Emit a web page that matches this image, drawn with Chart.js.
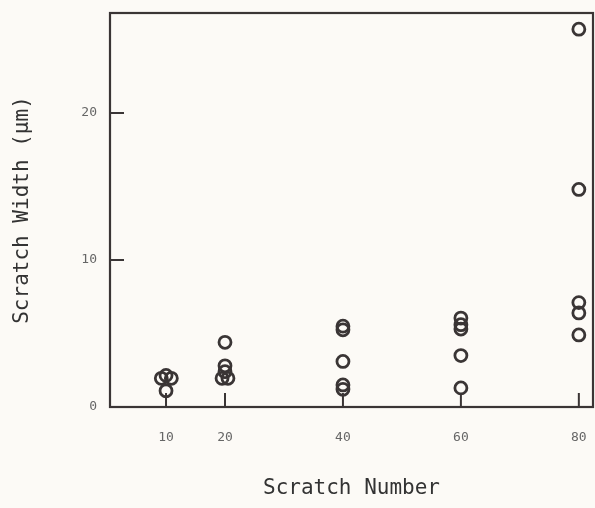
<!DOCTYPE html>
<html>
<head>
<meta charset="utf-8">
<script src="https://cdn.jsdelivr.net/npm/chart.js@4.4.1/dist/chart.umd.min.js"></script>
<style>
  html, body { margin: 0; padding: 0; background: #fcfaf6; overflow: hidden; }
  #wrap { width: 595px; height: 508px; }
</style>
</head>
<body>
<div id="wrap"><canvas id="myChart" width="595" height="508"></canvas></div>
<script>
// 읽어낸 값들 (scratch number, width in um)
const scratchX = [9.2, 10, 10.9, 10,
  20, 20, 20, 19.5, 20.5,
  40, 40, 40, 40, 40,
  60, 60, 60, 60, 60,
  80, 80, 80, 80, 80];
const scratchWidth = [1.95, 2.15, 1.95, 1.1,
  4.4, 2.8, 2.4, 1.95, 1.95,
  5.5, 5.25, 3.1, 1.5, 1.2,
  6.05, 5.6, 5.3, 3.5, 1.3,
  25.7, 14.8, 7.1, 6.4, 4.9];
const xTicks = [10, 20, 40, 60, 80];
const yTicks = [0, 10, 20];

const ink = '#3a3535';
const labelFont = { family: 'DejaVu Sans Mono', size: 13 };
const titleFont = { family: 'DejaVu Sans Mono', size: 21 };

const points = scratchX.map((x, i) => ({ x: x, y: scratchWidth[i] }));

// 상자 테두리 + 안쪽 눈금
const frame = {
  id: 'frame',
  afterDatasetsDraw: (chart) => {
    const ctx = chart.ctx;
    const a = chart.chartArea;
    const xs = chart.scales.x;
    const ys = chart.scales.y;
    ctx.save();
    ctx.strokeStyle = ink;
    ctx.lineWidth = 2.2;
    ctx.strokeRect(a.left, a.top, a.right - a.left, a.bottom - a.top);
    ctx.lineWidth = 2;
    ctx.beginPath();
    xTicks.forEach((v) => {
      const px = xs.getPixelForValue(v);
      ctx.moveTo(px, a.bottom);
      ctx.lineTo(px, a.bottom - 14);
    });
    yTicks.forEach((v) => {
      if (v === 0) return;
      const py = ys.getPixelForValue(v);
      ctx.moveTo(a.left, py);
      ctx.lineTo(a.left + 14, py);
    });
    ctx.stroke();
    ctx.restore();
  }
};

new Chart(document.getElementById('myChart'), {
  type: 'scatter',
  data: {
    datasets: [{
      data: points,
      pointStyle: 'circle',
      pointRadius: 6,
      pointBorderWidth: 2.8,
      pointBorderColor: ink,
      pointBackgroundColor: 'rgba(0,0,0,0)',
    }]
  },
  options: {
    responsive: false,
    animation: false,
    layout: { autoPadding: false, padding: { top: 13, right: 2, left: 0, bottom: 0 } },
    plugins: { legend: { display: false }, tooltip: { enabled: false } },
    scales: {
      x: {
        type: 'linear',
        min: 0.5,
        max: 82.4,
        afterBuildTicks: (s) => { s.ticks = xTicks.map((v) => ({ value: v })); },
        afterFit: (s) => { s.height = 101; s.paddingLeft = 0; s.paddingRight = 0; },
        grid: { display: false, drawTicks: false },
        border: { display: false },
        ticks: { color: '#666', font: labelFont, padding: 23, maxRotation: 0, autoSkip: false },
        title: { display: true, text: 'Scratch Number', color: '#333', font: titleFont, padding: { top: 0, bottom: 7 } }
      },
      y: {
        min: 0,
        max: 26.8,
        afterBuildTicks: (s) => { s.ticks = yTicks.map((v) => ({ value: v })); },
        afterFit: (s) => { s.width = 110; s.paddingTop = 0; s.paddingBottom = 0; },
        grid: { display: false, drawTicks: false },
        border: { display: false },
        ticks: { color: '#666', font: labelFont, padding: 13 },
        title: { display: true, text: 'Scratch Width (μm)', color: '#333', font: titleFont, padding: { top: 10, bottom: 0 } }
      }
    }
  },
  plugins: [frame]
});
</script>
</body>
</html>
